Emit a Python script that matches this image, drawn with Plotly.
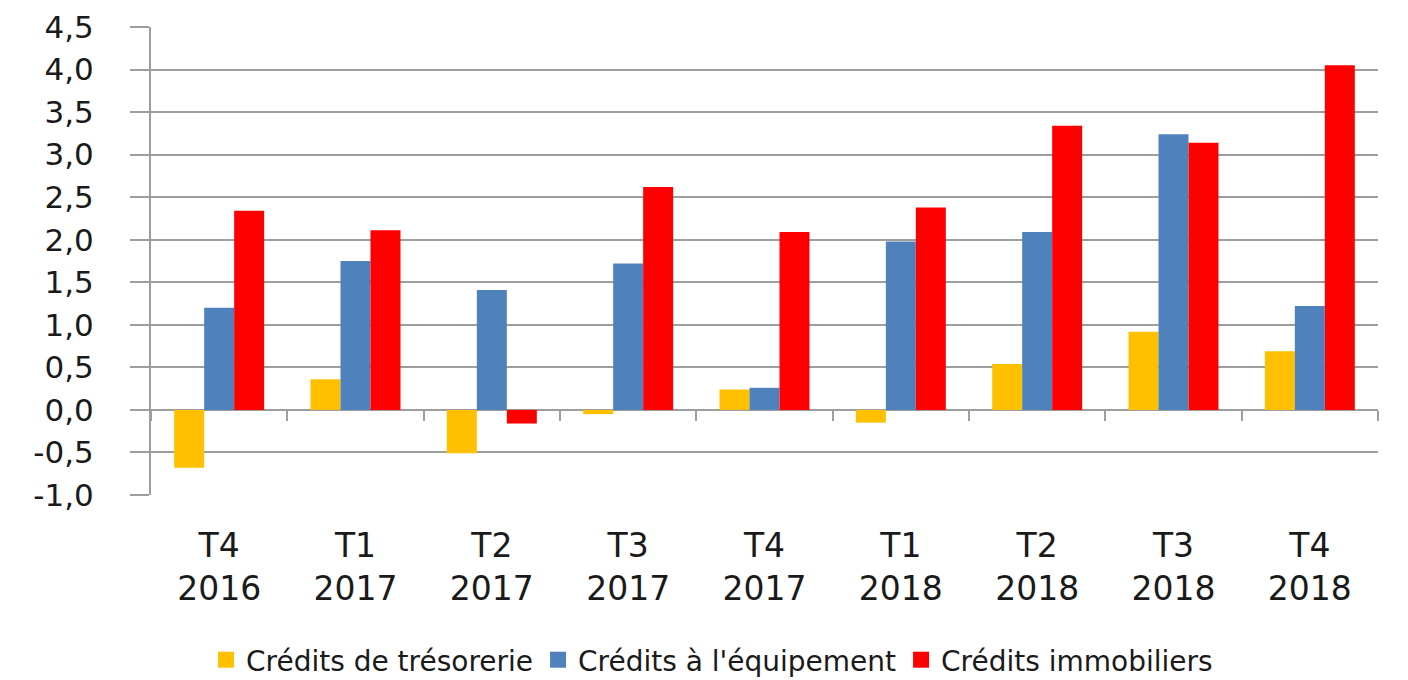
import plotly.graph_objects as go

categories = ["T4<br>2016", "T1<br>2017", "T2<br>2017", "T3<br>2017", "T4<br>2017",
              "T1<br>2018", "T2<br>2018", "T3<br>2018", "T4<br>2018"]
tresorerie = [-0.68, 0.36, -0.51, -0.05, 0.24, -0.15, 0.54, 0.92, 0.69]
equipement = [1.20, 1.75, 1.41, 1.72, 0.26, 1.98, 2.09, 3.24, 1.22]
immobiliers = [2.34, 2.11, -0.16, 2.62, 2.09, 2.38, 3.34, 3.14, 4.05]
y_tick_values = [-1.0, -0.5, 0.0, 0.5, 1.0, 1.5, 2.0, 2.5, 3.0, 3.5, 4.0, 4.5]
y_tick_labels = ["-1,0", "-0,5", "0,0", "0,5", "1,0", "1,5", "2,0", "2,5", "3,0", "3,5", "4,0", "4,5"]

names = ["Crédits de trésorerie", "Crédits à l'équipement", "Crédits immobiliers"]
colors = ["#FFC000", "#4F81BD", "#FF0000"]
series = [tresorerie, equipement, immobiliers]

FONT = "DejaVu Sans"
GRID = "#9e9e9e"

fig = go.Figure()
for name, col, vals in zip(names, colors, series):
    fig.add_trace(go.Bar(x=categories, y=vals, name=name, marker=dict(color=col, line_width=0),
                         showlegend=False, legendgroup=name))
for name, col in zip(names, colors):
    fig.add_trace(go.Scatter(x=[None], y=[None], mode="markers", name=name, legendgroup=name,
                             marker=dict(symbol="square", size=20, color=col)))
# helper axis at zero for category boundary ticks
fig.add_trace(go.Scatter(x=categories, y=[0] * len(categories), xaxis="x2", mode="markers",
                         marker=dict(opacity=0), showlegend=False, hoverinfo="skip"))

W, H = 1400, 672
fig.update_layout(
    width=W, height=H,
    margin=dict(l=143, r=30, t=19, b=185, autoexpand=False),
    paper_bgcolor="white", plot_bgcolor="white",
    barmode="group", bargap=0.34, bargroupgap=0,
    font=dict(family=FONT, color="#1a1a1a"),
    xaxis=dict(type="category", showgrid=False, showline=False, zeroline=False, ticks="",
               tickfont=dict(size=33, family=FONT, color="#1a1a1a"), ticklabelstandoff=28,
               range=[-0.5, 8.5], automargin=False),
    xaxis2=dict(type="category", overlaying="x", anchor="free", position=1 / 5.5,
                matches="x", showticklabels=False, showgrid=False, showline=False,
                ticks="outside", tickson="boundaries", ticklen=10, tickwidth=2, tickcolor=GRID,
                automargin=False),
    yaxis=dict(range=[-1, 4.5], tickmode="array", tickvals=y_tick_values, ticktext=y_tick_labels,
               showgrid=True, gridcolor=GRID, gridwidth=2,
               zeroline=True, zerolinecolor=GRID, zerolinewidth=2,
               showline=True, linecolor=GRID, linewidth=2,
               ticks="outside", ticklen=19, tickwidth=2, tickcolor=GRID,
               ticklabelstandoff=30, automargin=False,
               tickfont=dict(size=31, family=FONT, color="#1a1a1a")),
    legend=dict(orientation="h", xref="container", yref="container",
                x=704 / W, xanchor="center", y=1 - 652 / H, yanchor="middle",
                font=dict(size=28, family=FONT, color="#1a1a1a"),
                itemsizing="trace", tracegroupgap=0, bgcolor="rgba(0,0,0,0)"),
)

fig.write_html("out.html")
